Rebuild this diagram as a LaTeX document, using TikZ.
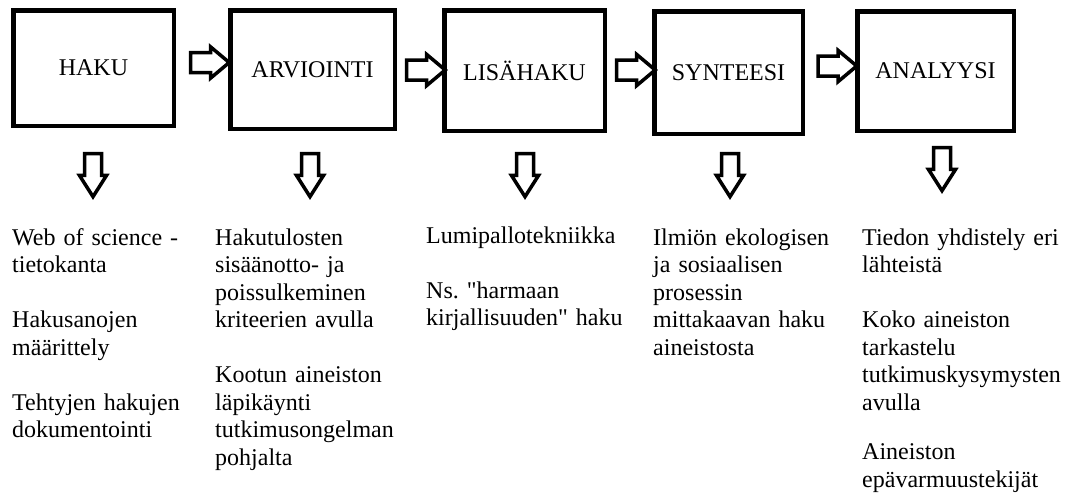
\documentclass[tikz,border=0pt]{standalone}
\usepackage{fontspec}
\setmainfont{Liberation Serif}
\newfontfamily\plainq{Liberation Serif}
\usetikzlibrary{shapes.arrows}
\frenchspacing
\newcommand{\sq}{{\plainq"}}

\begin{document}
\begin{tikzpicture}[x=1pt,y=-1pt]
    \tikzstyle{phase}=[draw,line width=4.5pt,inner sep=0pt,font=\fontsize{24}{28}\selectfont]
    \tikzstyle{block arrow}=[single arrow,draw,fill=white,line width=3.5pt]
    \tikzstyle{flow arrow}=[block arrow,inner sep=8.25pt,minimum height=38.5pt,minimum width=27.5pt,
        single arrow head extend=5.5pt,single arrow tip angle=80]
    \tikzstyle{down arrow}=[block arrow,shape border rotate=270,inner sep=6.75pt,minimum height=43pt,
        minimum width=23.5pt,single arrow head extend=5pt,single arrow tip angle=65]
    \tikzstyle{notes}=[anchor=base west,inner sep=0pt,text width=230pt,align=left,
        font=\fontsize{24}{27.5}\selectfont]

    \fill[white] (0,0) rectangle (1083,493);
    \useasboundingbox (0,0) rectangle (1083,493);

    % The five phases
    \node[phase,minimum width=160.5pt,minimum height=115.5pt] (haku) at (93.5,68) {HAKU};
    \node[phase,minimum width=164.5pt,minimum height=118.5pt] (arvio) at (312.5,69.5) {ARVIOINTI};
    \node[phase,minimum width=160.5pt,minimum height=120.5pt] (lisa) at (524.5,70.5) {LISÄHAKU};
    \node[phase,minimum width=148.5pt,minimum height=122.5pt] (synt) at (728.5,72.5) {SYNTEESI};
    \node[phase,minimum width=156.5pt,minimum height=119.5pt] (anal) at (935.5,71) {ANALYYSI};

    % Arrows between the phases
    \foreach \name / \x / \y in {haku-arvio/204/62.5, arvio-lisa/420/70, lisa-synt/630/70, synt-anal/831.5/66}
        \node[flow arrow] (F-\name) at (\x,\y) {};

    % Arrows down to the notes
    \foreach \name / \x / \y in {haku/93/168.5, arvio/310/168.5, lisa/525/168.5, synt/730/168.5, anal/942/162.5}
        \node[down arrow] (D-\name) at (\x,\y) {};

    % Notes under each phase
    \node[notes] (n-haku) at (12,245) {Web of science -\\tietokanta\\[27.5pt]Hakusanojen\\määrittely\\[27.5pt]Tehtyjen hakujen\\dokumentointi};
    \node[notes] (n-arvio) at (215,245) {Hakutulosten\\sisäänotto- ja\\poissulkeminen\\kriteerien avulla\\[27.5pt]Kootun aineiston\\läpikäynti\\tutkimusongelman\\pohjalta};
    \node[notes] (n-lisa) at (426,243) {Lumipallotekniikka\\[27.5pt]Ns. \sq harmaan\\kirjallisuuden\sq{} haku};
    \node[notes] (n-synt) at (653,245) {Ilmiön ekologisen\\ja sosiaalisen\\prosessin\\mittakaavan haku\\aineistosta};
    \node[notes] (n-anal) at (862,245) {Tiedon yhdistely eri\\lähteistä\\[27.5pt]Koko aineiston\\tarkastelu\\tutkimuskysymysten\\avulla\\[22pt]Aineiston\\epävarmuustekijät};
\end{tikzpicture}
\end{document}
